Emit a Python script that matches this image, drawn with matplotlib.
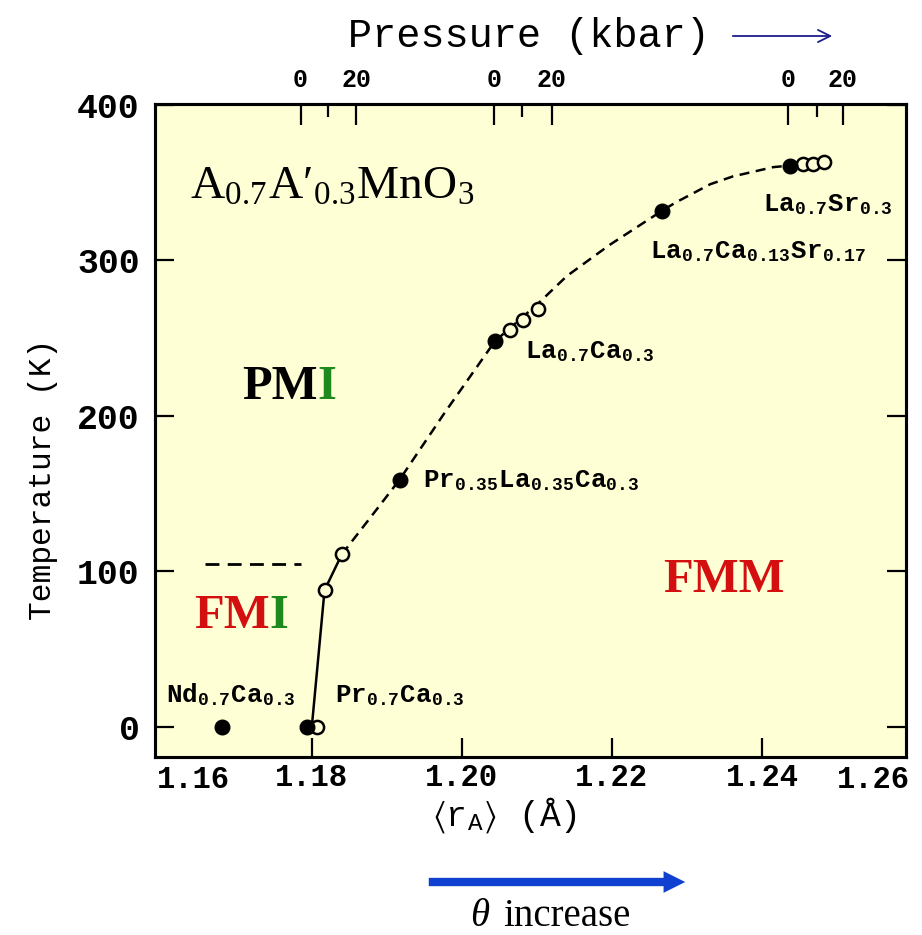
import matplotlib
matplotlib.use('Agg')
import matplotlib.pyplot as plt
from matplotlib.patches import FancyArrowPatch

MONO = 'Liberation Mono'
SERIF = 'Liberation Serif'
plt.rcParams['mathtext.fontset'] = 'stix'

# --- Phase diagram data: <r_A> (Angstrom) vs T (K) ---
# Solid part of the FMI / FMM boundary at the small-r_A end
boundary_solid_r = [1.1800, 1.1817, 1.1840]
boundary_solid_T = [0, 88, 111]

# Dashed Curie temperature curve
boundary_dash_r = [1.1840, 1.1877, 1.1917, 1.1977, 1.2044, 1.2101, 1.2140,
                   1.2197, 1.2267, 1.2284, 1.2331, 1.2361, 1.2397, 1.2415, 1.2437]
boundary_dash_T = [111, 134, 159, 202, 248, 272, 290, 310, 332, 337, 349,
                   354, 358, 360, 361]

# PMI / FMI separation
fmi_r = [1.1657, 1.1786]
fmi_T = [105, 105]

# Ambient pressure compounds (filled) and high pressure points (open)
filled_r = [1.1680, 1.1793, 1.1917, 1.2044, 1.2267, 1.2437]
filled_T = [0, 0, 159, 248, 332, 361]
open_r = [1.1807, 1.1817, 1.1840, 1.2064, 1.2081, 1.2101, 1.2455, 1.2468, 1.2483]
open_T = [0, 88, 111, 255, 262, 269, 362, 362, 363]

# Pressure scale (kbar) on top, one per compound
pressure_major_r = [1.1785, 1.1859, 1.2043, 1.2120, 1.2435, 1.2508]
pressure_major_lab = ['0', '20', '0', '20', '0', '20']
pressure_minor_r = [1.1821, 1.2080, 1.2473]

x_ticks = [1.18, 1.20, 1.22, 1.24]
x_ticklabels = ['1.18', '1.20', '1.22', '1.24']
y_ticks = [0, 100, 200, 300, 400]

W, H = 922, 935
fig = plt.figure(figsize=(W / 100, H / 100), dpi=100)
ax = fig.add_axes([155 / W, 1 - 757 / H, (906 - 155) / W, (757 - 104) / H])
ax.set_facecolor('#FFFFD6')
ax.set_xlim(1.1591, 1.2592)
ax.set_ylim(-19.3, 400.6)

for s in ax.spines.values():
    s.set_linewidth(2.2)

ax.plot(boundary_solid_r, boundary_solid_T, color='black', lw=1.8, zorder=2)
ax.plot(boundary_dash_r, boundary_dash_T, color='black', lw=1.8,
        linestyle=(0, (4, 2.6)), zorder=2)
ax.plot(fmi_r, fmi_T, color='black', lw=2.0, linestyle=(0, (5, 3)), zorder=2)

ax.plot(open_r, open_T, linestyle='none', marker='o', ms=9.5,
        mfc='#FFFFD6', mec='black', mew=1.8, zorder=3)
ax.plot(filled_r, filled_T, linestyle='none', marker='o', ms=10.5,
        mfc='black', mec='black', zorder=4)

# bottom / side ticks
ax.set_xticks(x_ticks)
ax.set_xticklabels(x_ticklabels)
ax.set_yticks(y_ticks)
ax.tick_params(axis='both', direction='in', length=14, width=1.6)
ax.tick_params(axis='y', right=True, labelsize=25, pad=11)
ax.tick_params(axis='x', top=False, labelsize=22, pad=4)
for lab in ax.get_xticklabels() + ax.get_yticklabels():
    lab.set_fontfamily(MONO)
    lab.set_fontweight('bold')

# end labels of the r_A scale
ax.text(0.003, -0.012, '1.16', transform=ax.transAxes, ha='left', va='top',
        fontsize=22, family=MONO, fontweight='bold')
ax.text(1.005, -0.012, '1.26', transform=ax.transAxes, ha='right', va='top',
        fontsize=22, family=MONO, fontweight='bold')

# pressure axis
ax_top = ax.twiny()
ax_top.set_xlim(ax.get_xlim())
ax_top.set_xticks(pressure_major_r)
ax_top.set_xticklabels(pressure_major_lab)
ax_top.set_xticks(pressure_minor_r, minor=True)
ax_top.tick_params(axis='x', which='major', direction='in', length=15,
                   width=1.6, labelsize=18, pad=9)
ax_top.tick_params(axis='x', which='minor', direction='in', length=9, width=1.6)
for lab in ax_top.get_xticklabels():
    lab.set_fontfamily(MONO)
    lab.set_fontweight('bold')
for s in ax_top.spines.values():
    s.set_linewidth(2.2)

# compound labels
lab_kw = dict(family=MONO, fontweight='bold', fontsize=18.5, va='baseline', ha='left')
ax.text(1.1606, 15.5, r'Nd$_{\mathregular{0.7}}$Ca$_{\mathregular{0.3}}$', **lab_kw)
ax.text(1.1831, 15.5, r'Pr$_{\mathregular{0.7}}$Ca$_{\mathregular{0.3}}$', **lab_kw)
ax.text(1.1948, 154, r'Pr$_{\mathregular{0.35}}$La$_{\mathregular{0.35}}$Ca$_{\mathregular{0.3}}$', **lab_kw)
ax.text(1.2084, 237, r'La$_{\mathregular{0.7}}$Ca$_{\mathregular{0.3}}$', **lab_kw)
ax.text(1.2251, 301.5, r'La$_{\mathregular{0.7}}$Ca$_{\mathregular{0.13}}$Sr$_{\mathregular{0.17}}$', **lab_kw)
ax.text(1.2401, 331.5, r'La$_{\mathregular{0.7}}$Sr$_{\mathregular{0.3}}$', **lab_kw)

ax.text(1.1637, 339.5, r'A$_{\mathregular{0.7}}$A′$_{\mathregular{0.3}}$MnO$_{\mathregular{3}}$',
        family=SERIF, fontsize=34, va='baseline', ha='left')

# phase regions
RED = '#D40F0F'
GREEN = '#1E8A1E'
phase_kw = dict(family=SERIF, fontweight='bold', fontsize=35, va='baseline')
ax.text(1.1808, 211, 'PM', color='black', ha='right', **phase_kw)
ax.text(1.1808, 211, 'I', color=GREEN, ha='left', **phase_kw)
ax.text(1.1744, 63.7, 'FM', color=RED, ha='right', **phase_kw)
ax.text(1.1744, 63.7, 'I', color=GREEN, ha='left', **phase_kw)
ax.text(1.2268, 86.8, 'FMM', color=RED, ha='left', **phase_kw)

# axis titles
fig.text(43 / W, 1 - 479 / H, 'Temperature (K)', rotation=90, ha='center',
         va='center', family=MONO, fontsize=22.5)
fig.text(505 / W, 1 - 815 / H, r'$\langle$r$_{\mathregular{A}}$$\rangle$ (Å)',
         ha='center', va='center', family=MONO, fontsize=25)
fig.text(529 / W, 1 - 36 / H, 'Pressure (kbar)', ha='center', va='center',
         family=MONO, fontsize=29)
fig.add_artist(FancyArrowPatch((730 / W, 1 - 36 / H), (835 / W, 1 - 36 / H),
                               transform=fig.transFigure, arrowstyle='->',
                               mutation_scale=22, color='#1C1C8C', lw=1.3))

# theta arrow below the plot
fig.add_artist(FancyArrowPatch((426 / W, 1 - 882 / H), (688 / W, 1 - 882 / H),
                               transform=fig.transFigure,
                               arrowstyle='simple,head_length=1.3,head_width=1.3,tail_width=0.5',
                               mutation_scale=12, color='#1040D0', lw=0))
fig.text(470 / W, 1 - 926 / H, 'θ', ha='left', va='baseline',
         family=SERIF, style='italic', fontsize=28)
fig.text(503 / W, 1 - 926 / H, 'increase', ha='left', va='baseline',
         family=SERIF, fontsize=28)

fig.savefig('out.png', dpi=100, facecolor='white')
